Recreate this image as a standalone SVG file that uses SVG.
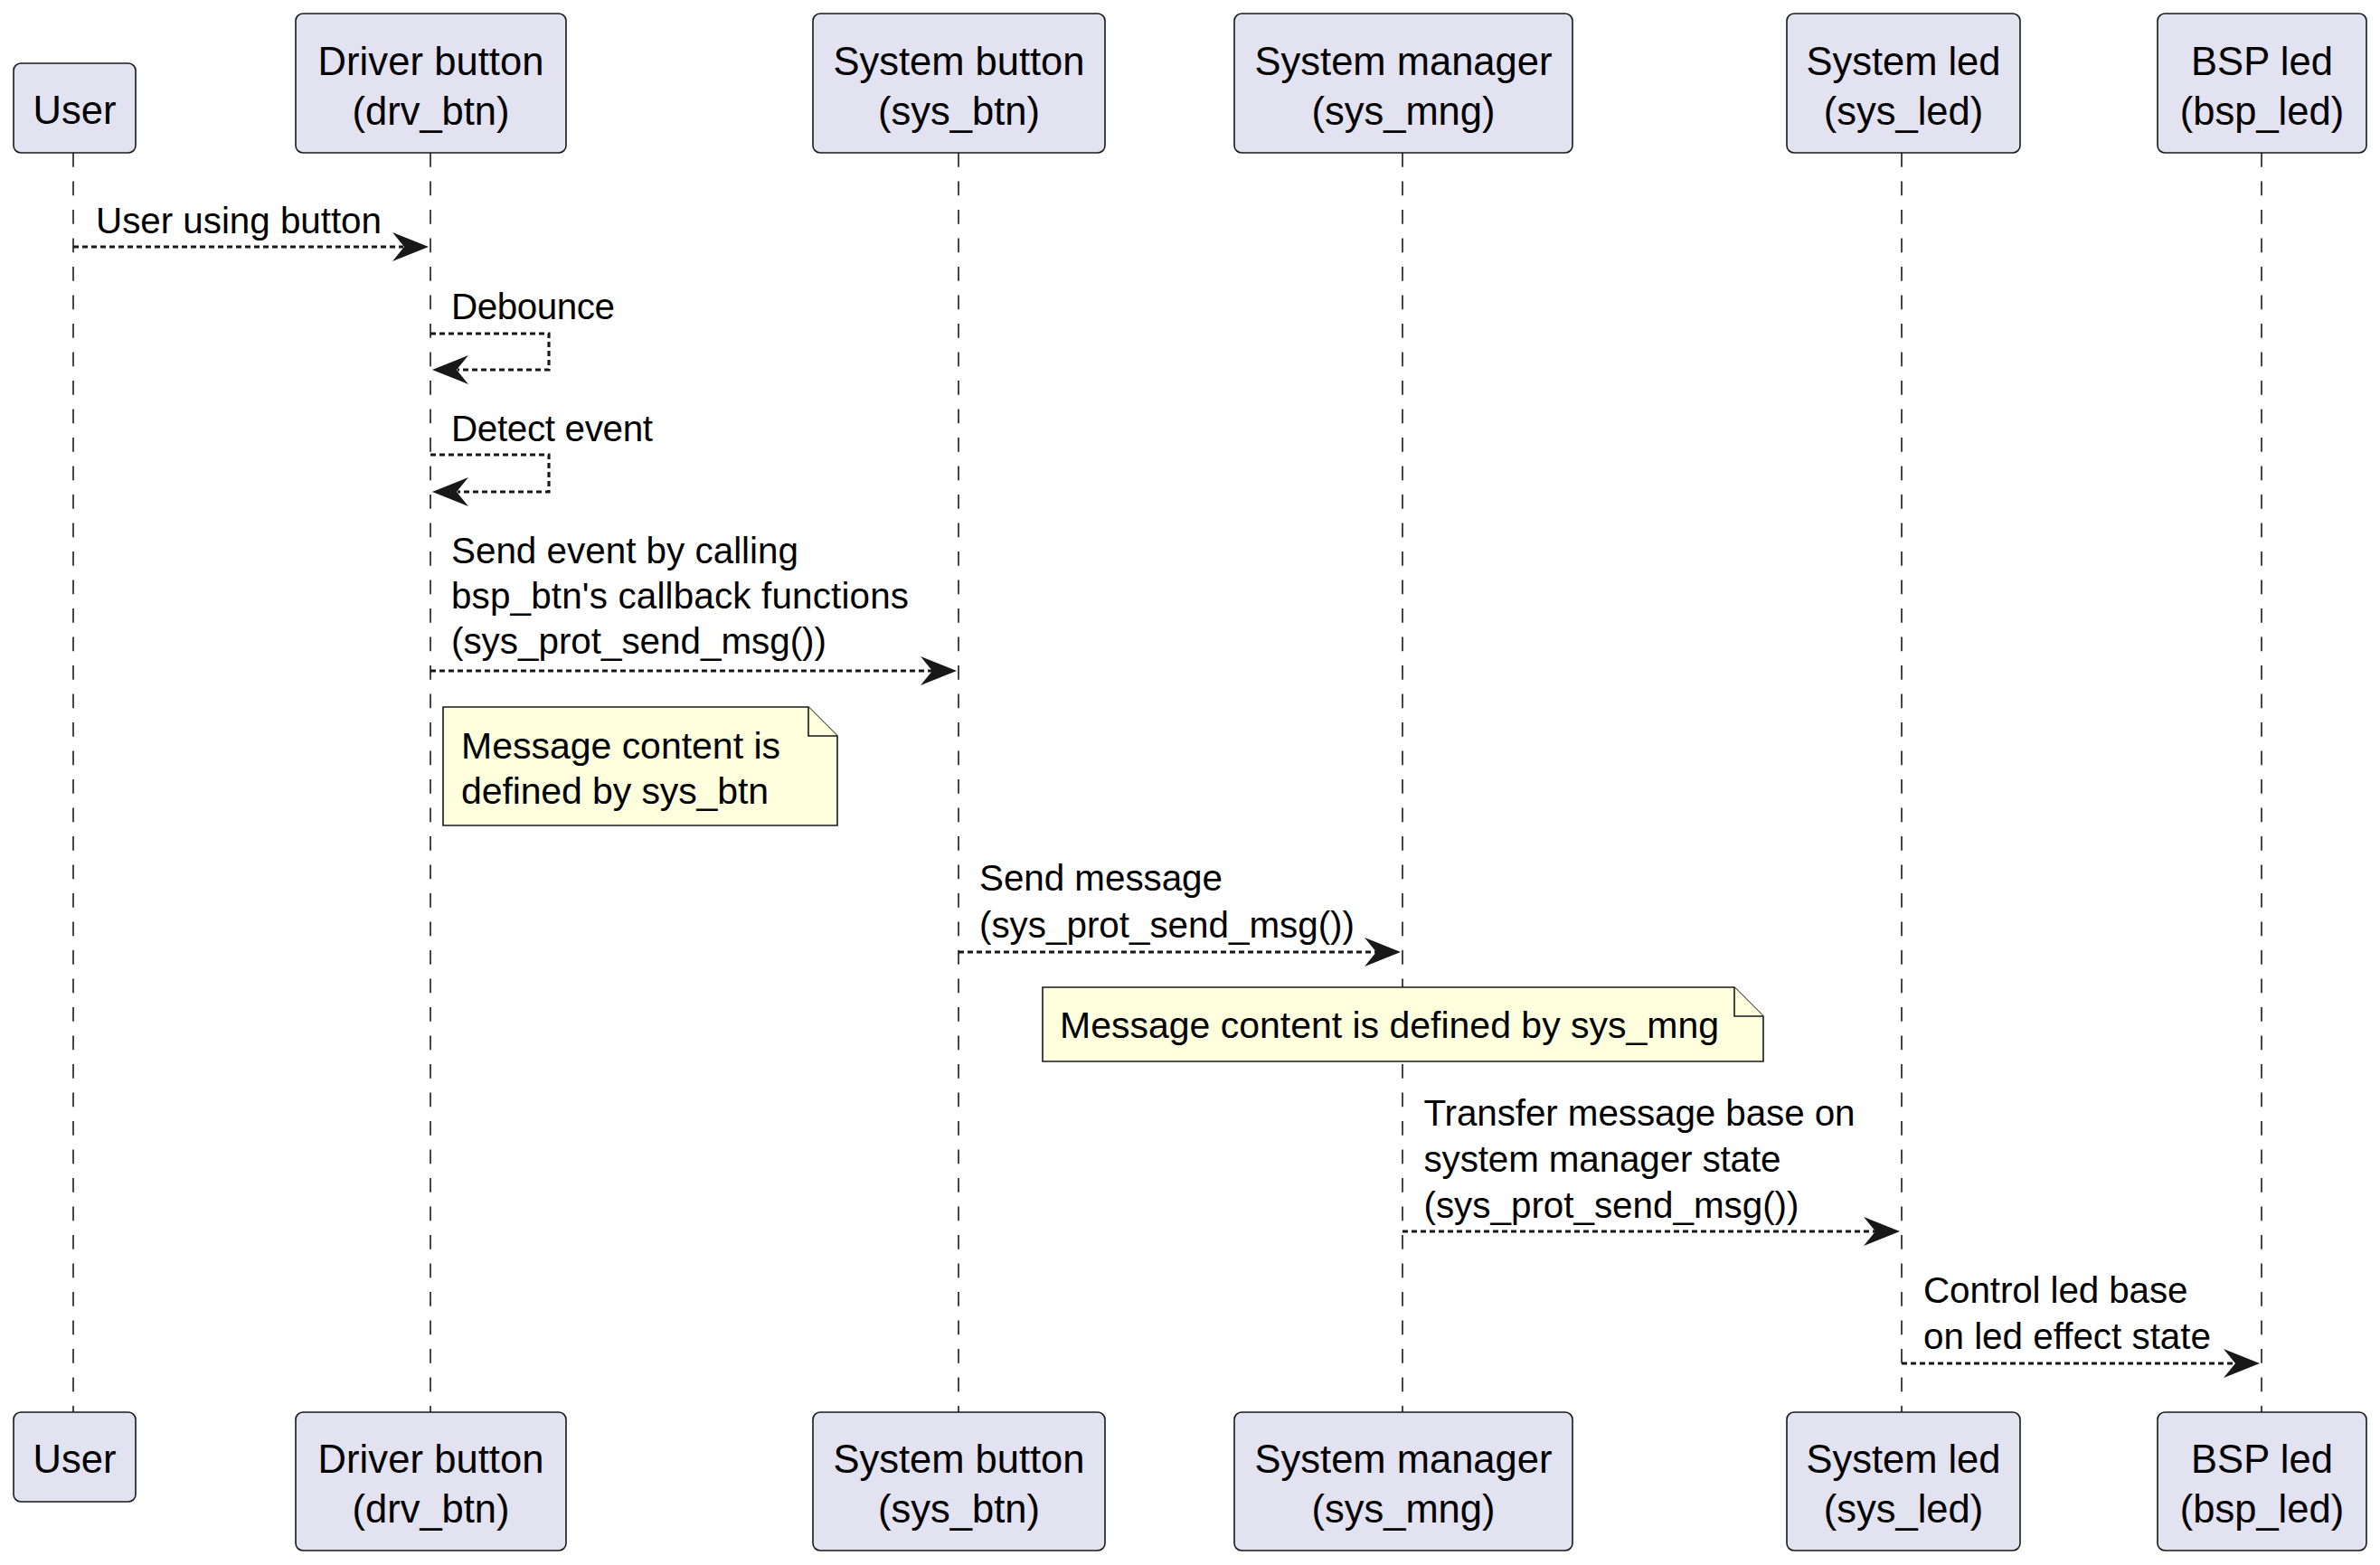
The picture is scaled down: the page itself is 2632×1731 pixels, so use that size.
<svg xmlns="http://www.w3.org/2000/svg" width="2632" height="1731" viewBox="0 0 2632 1731">
<style>
.box{fill:#E2E2F0;stroke:#181818;stroke-width:1.6}
.pt{font-family:"Liberation Sans",Arial,sans-serif;font-size:43.5px;fill:#000;text-anchor:middle}
.mt{font-family:"Liberation Sans",Arial,sans-serif;font-size:40.4px;fill:#000}
.nt{font-family:"Liberation Sans",Arial,sans-serif;font-size:41px;fill:#000}
.life{stroke:#181818;stroke-width:1.6;stroke-dasharray:15.75,15.75;fill:none}
.msg{stroke:#181818;stroke-width:3.15;stroke-dasharray:6,4;fill:none}
.note{fill:#FEFFDD;stroke:#181818;stroke-width:1.6}
.ah{fill:#181818;stroke:none}
</style>
<defs>
<path id="ah" d="M0,0 L-40,-16 L-27,0 L-40,16 Z"/>
</defs>
<rect width="2632" height="1731" fill="#FFFFFF"/>
<g id="lifelines">
<line class="life" x1="81" y1="169" x2="81" y2="1562"/>
<line class="life" x1="476" y1="169" x2="476" y2="1562"/>
<line class="life" x1="1060" y1="169" x2="1060" y2="1562"/>
<line class="life" x1="1551" y1="169" x2="1551" y2="1562"/>
<line class="life" x1="2103" y1="169" x2="2103" y2="1562"/>
<line class="life" x1="2501" y1="169" x2="2501" y2="1562"/>
</g>
<g id="p-user">
<rect class="box" x="15" y="70" width="135" height="99" rx="8"/>
<text class="pt" x="82.5" y="137" textLength="91.8" lengthAdjust="spacing">User</text>
<rect class="box" x="15" y="1562" width="135" height="99" rx="8"/>
<text class="pt" x="82.5" y="1629" textLength="91.8" lengthAdjust="spacing">User</text>
</g>
<g id="p-drv_btn">
<rect class="box" x="327" y="15" width="299" height="154" rx="8"/>
<text class="pt" x="476.5" y="82.5" textLength="250" lengthAdjust="spacing">Driver button</text>
<text class="pt" x="476.5" y="138" textLength="174" lengthAdjust="spacing">(drv_btn)</text>
<rect class="box" x="327" y="1562" width="299" height="153" rx="8"/>
<text class="pt" x="476.5" y="1629" textLength="250" lengthAdjust="spacing">Driver button</text>
<text class="pt" x="476.5" y="1684" textLength="174" lengthAdjust="spacing">(drv_btn)</text>
</g>
<g id="p-sys_btn">
<rect class="box" x="899" y="15" width="323" height="154" rx="8"/>
<text class="pt" x="1060.5" y="82.5" textLength="278" lengthAdjust="spacing">System button</text>
<text class="pt" x="1060.5" y="138" textLength="179" lengthAdjust="spacing">(sys_btn)</text>
<rect class="box" x="899" y="1562" width="323" height="153" rx="8"/>
<text class="pt" x="1060.5" y="1629" textLength="278" lengthAdjust="spacing">System button</text>
<text class="pt" x="1060.5" y="1684" textLength="179" lengthAdjust="spacing">(sys_btn)</text>
</g>
<g id="p-sys_mng">
<rect class="box" x="1365" y="15" width="374" height="154" rx="8"/>
<text class="pt" x="1552" y="82.5" textLength="328.8" lengthAdjust="spacing">System manager</text>
<text class="pt" x="1552" y="138" textLength="203" lengthAdjust="spacing">(sys_mng)</text>
<rect class="box" x="1365" y="1562" width="374" height="153" rx="8"/>
<text class="pt" x="1552" y="1629" textLength="328.8" lengthAdjust="spacing">System manager</text>
<text class="pt" x="1552" y="1684" textLength="203" lengthAdjust="spacing">(sys_mng)</text>
</g>
<g id="p-sys_led">
<rect class="box" x="1976" y="15" width="258" height="154" rx="8"/>
<text class="pt" x="2105" y="82.5" textLength="215" lengthAdjust="spacing">System led</text>
<text class="pt" x="2105" y="138" textLength="176.4" lengthAdjust="spacing">(sys_led)</text>
<rect class="box" x="1976" y="1562" width="258" height="153" rx="8"/>
<text class="pt" x="2105" y="1629" textLength="215" lengthAdjust="spacing">System led</text>
<text class="pt" x="2105" y="1684" textLength="176.4" lengthAdjust="spacing">(sys_led)</text>
</g>
<g id="p-bsp_led">
<rect class="box" x="2386" y="15" width="231" height="154" rx="8"/>
<text class="pt" x="2501.5" y="82.5" textLength="157" lengthAdjust="spacing">BSP led</text>
<text class="pt" x="2501.5" y="138" textLength="181.3" lengthAdjust="spacing">(bsp_led)</text>
<rect class="box" x="2386" y="1562" width="231" height="153" rx="8"/>
<text class="pt" x="2501.5" y="1629" textLength="157" lengthAdjust="spacing">BSP led</text>
<text class="pt" x="2501.5" y="1684" textLength="181.3" lengthAdjust="spacing">(bsp_led)</text>
</g>
<g id="connectors">
<g id="m1">
<line class="msg" x1="81" y1="273" x2="446" y2="273"/>
<use href="#ah" class="ah" transform="translate(474,273)"/>
<text class="mt" x="106" y="258" textLength="316" lengthAdjust="spacing">User using button</text>
</g>
<g id="m2">
<path class="msg" d="M476,369 H607 V409 H506"/>
<use href="#ah" class="ah" transform="translate(478,409) rotate(180)"/>
<text class="mt" x="499" y="353" textLength="181" lengthAdjust="spacing">Debounce</text>
</g>
<g id="m3">
<path class="msg" d="M476,503 H607 V544 H506"/>
<use href="#ah" class="ah" transform="translate(478,544) rotate(180)"/>
<text class="mt" x="499" y="488" textLength="223" lengthAdjust="spacing">Detect event</text>
</g>
<g id="m4">
<line class="msg" x1="476" y1="742" x2="1031" y2="742"/>
<use href="#ah" class="ah" transform="translate(1058,742)"/>
<text class="mt" x="499" y="623" textLength="384" lengthAdjust="spacing">Send event by calling</text>
<text class="mt" x="499" y="673" textLength="506" lengthAdjust="spacing">bsp_btn's callback functions</text>
<text class="mt" x="499" y="723" textLength="415" lengthAdjust="spacing">(sys_prot_send_msg())</text>
</g>
<g id="m5">
<line class="msg" x1="1060" y1="1053" x2="1522" y2="1053"/>
<use href="#ah" class="ah" transform="translate(1549,1053)"/>
<text class="mt" x="1083" y="985" textLength="269" lengthAdjust="spacing">Send message</text>
<text class="mt" x="1083" y="1036.5" textLength="415" lengthAdjust="spacing">(sys_prot_send_msg())</text>
</g>
<g id="m6">
<line class="msg" x1="1551" y1="1362" x2="2074" y2="1362"/>
<use href="#ah" class="ah" transform="translate(2101,1362)"/>
<text class="mt" x="1574.5" y="1245" textLength="477" lengthAdjust="spacing">Transfer message base on</text>
<text class="mt" x="1574.5" y="1296" textLength="395" lengthAdjust="spacing">system manager state</text>
<text class="mt" x="1574.5" y="1347" textLength="415" lengthAdjust="spacing">(sys_prot_send_msg())</text>
</g>
<g id="m7">
<line class="msg" x1="2103" y1="1508" x2="2472" y2="1508"/>
<use href="#ah" class="ah" transform="translate(2499,1508)"/>
<text class="mt" x="2127" y="1441" textLength="292.5" lengthAdjust="spacing">Control led base</text>
<text class="mt" x="2127" y="1492" textLength="318" lengthAdjust="spacing">on led effect state</text>
</g>
</g>
<g id="note1">
<path class="note" d="M490,782 H894 L926,814 V913 H490 Z"/>
<path class="note" d="M894,782 V814 H926"/>
<text class="nt" x="510" y="839" textLength="353" lengthAdjust="spacing">Message content is</text>
<text class="nt" x="510" y="889" textLength="340" lengthAdjust="spacing">defined by sys_btn</text>
</g>
<g id="note2">
<path class="note" d="M1153,1092 H1918 L1950,1124 V1174 H1153 Z"/>
<path class="note" d="M1918,1092 V1124 H1950"/>
<text class="nt" x="1172" y="1148" textLength="729" lengthAdjust="spacing">Message content is defined by sys_mng</text>
</g>
</svg>
